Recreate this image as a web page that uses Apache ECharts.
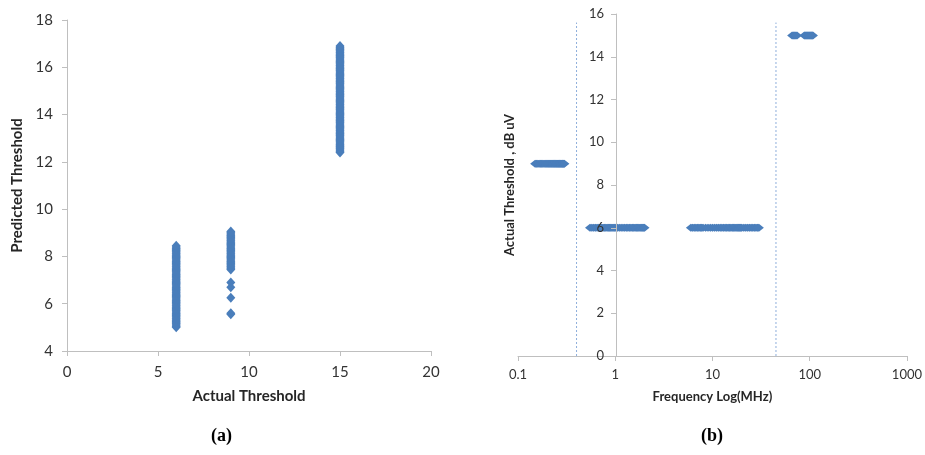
<!DOCTYPE html>
<html>
<head>
<meta charset="utf-8">
<script src="https://cdn.jsdelivr.net/npm/echarts@6/dist/echarts.min.js"></script>
<style>
html,body{margin:0;padding:0;background:#fff;}
#c{width:925px;height:455px;}
</style>
</head>
<body>
<div id="c"></div>
<script>
// ---- Chart (a): Actual vs Predicted threshold ----
const actualLevels = [6, 9, 15];
const predictedAt6 = [5.0,5.05,5.1,5.15,5.2,5.25,5.3,5.35,5.4,5.45,5.5,5.55,5.6,5.65,5.7,5.75,5.8,5.85,5.9,5.95,6.0,6.05,6.1,6.15,6.2,6.25,6.3,6.35,6.4,6.45,6.5,6.55,6.6,6.65,6.7,6.75,6.8,6.85,6.9,6.95,7.0,7.05,7.1,7.15,7.2,7.25,7.3,7.35,7.4,7.45,7.5,7.55,7.6,7.65,7.7,7.75,7.8,7.85,7.9,7.95,8.0,8.05,8.1,8.15,8.2,8.25,8.3,8.35,8.4,8.45];
const predictedAt9 = [5.55,5.6,6.25,6.7,6.9,7.45,7.5,7.55,7.6,7.65,7.7,7.75,7.8,7.85,7.9,7.95,8.0,8.05,8.1,8.15,8.2,8.25,8.3,8.35,8.4,8.45,8.5,8.55,8.6,8.65,8.7,8.75,8.8,8.85,8.9,8.95,9.0,9.05];
const predictedAt15 = [12.4,12.45,12.5,12.55,12.6,12.65,12.7,12.75,12.8,12.85,12.9,12.95,13.0,13.05,13.1,13.15,13.2,13.25,13.3,13.35,13.4,13.45,13.5,13.55,13.6,13.65,13.7,13.75,13.8,13.85,13.9,13.95,14.0,14.05,14.1,14.15,14.2,14.25,14.3,14.35,14.4,14.45,14.5,14.55,14.6,14.65,14.7,14.75,14.8,14.85,14.9,14.95,15.0,15.05,15.1,15.15,15.2,15.25,15.3,15.35,15.4,15.45,15.5,15.55,15.6,15.65,15.7,15.75,15.8,15.85,15.9,15.95,16.0,16.05,16.1,16.15,16.2,16.25,16.3,16.35,16.4,16.45,16.5,16.55,16.6,16.65,16.7,16.75,16.8,16.85,16.9];

// ---- Chart (b): threshold vs frequency ----
const thresholdLevels = [9, 6, 6, 15];
const freqAt9 = [0.15,0.155,0.16,0.165,0.17,0.175,0.18,0.185,0.19,0.195,0.2,0.205,0.21,0.215,0.22,0.225,0.23,0.235,0.24,0.245,0.25,0.255,0.26,0.265,0.27,0.275,0.28,0.285,0.29,0.295,0.3];
const freqAt6Low = [0.55,0.575,0.6,0.625,0.65,0.675,0.7,0.725,0.75,0.775,0.8,0.825,0.85,0.875,0.9,0.925,0.95,0.975,1.0,1.05,1.1,1.15,1.2,1.25,1.3,1.35,1.4,1.45,1.5,1.55,1.6,1.65,1.7,1.75,1.8,1.85,1.9,1.95,2.0];
const freqAt6High = [6,6.25,6.5,6.75,7,7.25,7.5,7.75,8,8.5,9,9.5,10,10.5,11,11.5,12,12.5,13,13.5,14,14.5,15,15.5,16,16.5,17,17.5,18,18.5,19,19.5,20,21,22,23,24,25,26,27,28,29,30];
const freqAt15 = [66,68,70,72,74,88,90,92,94,96,98,100,102,104,106,108];
const boundaryFreqs = [0.4, 45];
const boundaryTop = 15.6;

const leftData = []
  .concat(predictedAt6.map(v => [actualLevels[0], v]))
  .concat(predictedAt9.map(v => [actualLevels[1], v]))
  .concat(predictedAt15.map(v => [actualLevels[2], v]));

const rightData = []
  .concat(freqAt9.map(f => [f, thresholdLevels[0]]))
  .concat(freqAt6Low.map(f => [f, thresholdLevels[1]]))
  .concat(freqAt6High.map(f => [f, thresholdLevels[2]]))
  .concat(freqAt15.map(f => [f, thresholdLevels[3]]));

const blue = '#4a7ebb';
const axisGray = '#bfbfbf';
const labelColor = '#333333';
const font = 'Lato, "Open Sans", sans-serif';

const chart = echarts.init(document.getElementById('c'));
const option = {
  backgroundColor: '#ffffff',
  animation: false,
  textStyle: { fontFamily: font },
  grid: [
    { left: 67, top: 20, width: 364, height: 331 },
    { left: 518, top: 14, width: 390, height: 342 }
  ],
  xAxis: [
    {
      gridIndex: 0, type: 'value', min: 0, max: 20, interval: 5,
      name: 'Actual Threshold', nameLocation: 'middle', nameGap: 38,
      nameTextStyle: { fontFamily: font, fontWeight: 'bold', fontSize: 15, color: '#262626' },
      axisLine: { lineStyle: { color: axisGray, width: 1 } },
      axisTick: { show: true, length: 5, lineStyle: { color: axisGray } },
      axisLabel: { fontFamily: font, fontSize: 15, color: labelColor, margin: 14 },
      splitLine: { show: false }
    },
    {
      gridIndex: 1, type: 'log', logBase: 10, min: 0.1, max: 1000,
      name: 'Frequency Log(MHz)', nameLocation: 'middle', nameGap: 34,
      nameTextStyle: { fontFamily: font, fontWeight: 'bold', fontSize: 13, color: '#262626' },
      axisLine: { lineStyle: { color: axisGray, width: 1 } },
      axisTick: { show: true, length: 5, lineStyle: { color: axisGray } },
      axisLabel: { fontFamily: font, fontSize: 13, color: labelColor, margin: 12,
        formatter: v => String(+v.toPrecision(6)) },
      splitLine: { show: false },
      minorTick: { show: false }
    }
  ],
  yAxis: [
    {
      gridIndex: 0, type: 'value', min: 4, max: 18, interval: 2,
      name: 'Predicted Threshold', nameLocation: 'middle', nameGap: 42,
      nameTextStyle: { fontFamily: font, fontWeight: 'bold', fontSize: 15, color: '#262626' },
      axisLine: { show: true, lineStyle: { color: axisGray, width: 1 } },
      axisTick: { show: true, length: 5, lineStyle: { color: axisGray } },
      axisLabel: { fontFamily: font, fontSize: 15, color: labelColor, margin: 14 },
      splitLine: { show: false }
    },
    {
      gridIndex: 1, type: 'value', min: 0, max: 16, interval: 2,
      offset: -98, z: 5,
      name: 'Actual Threshold , dB uV', nameLocation: 'middle', nameGap: 100,
      nameTextStyle: { fontFamily: font, fontWeight: 'bold', fontSize: 13, color: '#262626' },
      axisLine: { show: true, onZero: false, lineStyle: { color: axisGray, width: 1 } },
      axisTick: { show: true, length: 5, lineStyle: { color: axisGray } },
      axisLabel: { fontFamily: font, fontSize: 13, color: labelColor, margin: 12 },
      splitLine: { show: false }
    }
  ],
  series: [
    {
      type: 'scatter', xAxisIndex: 0, yAxisIndex: 0,
      data: leftData, symbol: 'diamond', symbolSize: [9, 10],
      itemStyle: { color: blue, opacity: 1 }
    },
    {
      type: 'scatter', xAxisIndex: 1, yAxisIndex: 1,
      data: rightData, symbol: 'diamond', symbolSize: [10, 8],
      itemStyle: { color: blue, opacity: 1 }
    }
  ].concat(boundaryFreqs.map(f => ({
    type: 'line', xAxisIndex: 1, yAxisIndex: 1,
    data: [[f, 0], [f, boundaryTop]], symbol: 'none',
    lineStyle: { color: '#8eaedb', width: 1, type: [2, 2] },
    silent: true
  }))),
  graphic: [
    { type: 'text', left: 211, top: 427,
      style: { text: '(a)', font: 'bold 18px "Liberation Serif", "Times New Roman", serif', fill: '#000' } },
    { type: 'text', left: 701, top: 427,
      style: { text: '(b)', font: 'bold 18px "Liberation Serif", "Times New Roman", serif', fill: '#000' } }
  ]
};
chart.setOption(option);
</script>
</body>
</html>
